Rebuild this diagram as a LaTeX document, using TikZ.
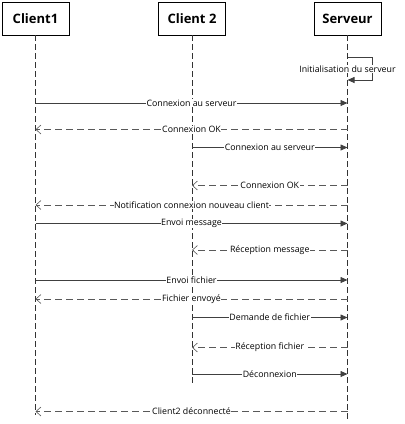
\documentclass[tikz,border=0pt]{standalone}
\usepackage{fontspec}
\setmainfont{Open Sans}
\usetikzlibrary{arrows.meta}
\begin{document}
\begin{tikzpicture}[x=1pt,y=-1pt,
  actor/.style={draw=black,line width=0.8pt,fill=white,minimum width=67pt,minimum height=33pt,inner sep=0pt,font=\fontsize{13}{15}\selectfont\bfseries},
  lifeline/.style={draw=black!80,line width=0.7pt,dash pattern=on 6pt off 3pt},
  msg/.style={draw=black!75,line width=0.8pt,-{Triangle[length=7pt,width=6pt]}},
  ret/.style={draw=black!65,line width=0.8pt,dash pattern=on 7pt off 4pt,-{Straight Barb[length=5pt,width=9pt,line width=0.6pt]}},
  lbl/.style={fill=white,inner sep=0.5pt,font=\fontsize{8.8}{10}\selectfont,text=black}
]
\useasboundingbox (0,0) rectangle (405,424);
\node[actor] (c1) at (35.5,18.5) {Client1};
\node[actor] (c2) at (192,18.5) {Client 2};
\node[actor] (sv) at (347.5,18.5) {Serveur};
\coordinate (c1e) at (35.5,415);
\coordinate (c2e) at (192,383);
\coordinate (sve) at (347.5,420);
\draw[lifeline] (c1.south) -- (c1e);
\draw[lifeline] (c2.south) -- (c2e);
\draw[lifeline] (sv.south) -- (sve);
% self loop
\coordinate (l1) at (347.5,57.5);
\coordinate (l2) at (372,57.5);
\coordinate (l3) at (372,80);
\coordinate (l4) at (347.5,80);
\draw[msg] (l1) -- (l2) -- (l3) -- (l4);
\node[lbl] (li) at (347.5,69) {Initialisation du serveur};
% messages
\foreach \y/\a/\b/\s/\t in {
  103/c1/sv/msg/Connexion au serveur,
  129.5/sv/c1/ret/Connexion OK,
  147.5/c2/sv/msg/Connexion au serveur,
  185.5/sv/c2/ret/Connexion OK,
  205/sv/c1/ret/Notification connexion nouveau client,
  223.5/c1/sv/msg/Envoi message,
  250/sv/c2/ret/Réception message,
  280/c1/sv/msg/Envoi fichier,
  299/sv/c1/ret/Fichier envoyé,
  317.5/c2/sv/msg/Demande de fichier,
  347.5/sv/c2/ret/Réception fichier,
  374/c2/sv/msg/Déconnexion,
  411.5/sv/c1/ret/Client2 déconnecté}{
  \draw[\s] (\a.center |- 0,\y) -- node[lbl] {\t} (\b.center |- 0,\y);
}
\end{tikzpicture}
\end{document}
